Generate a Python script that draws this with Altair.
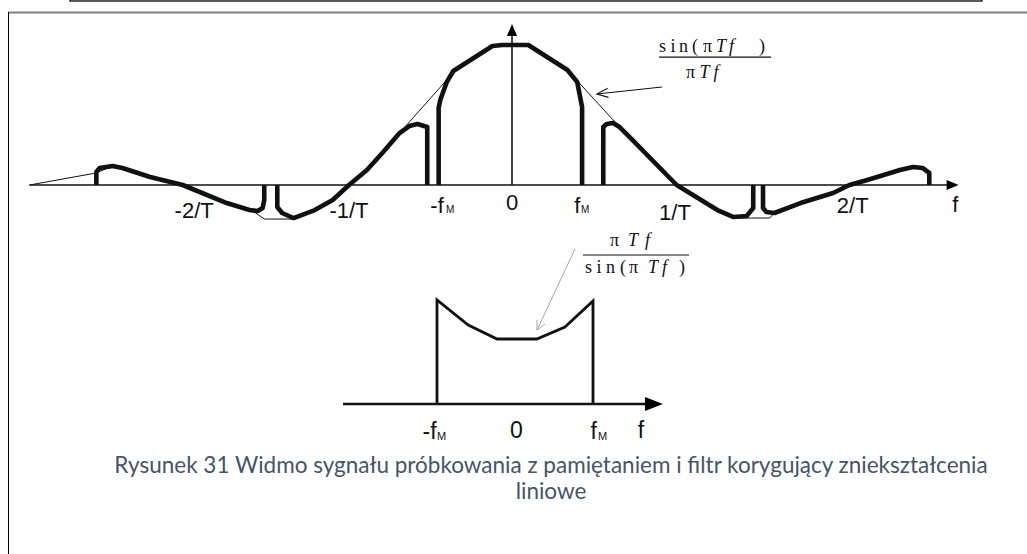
import altair as alt
import pandas as pd

W, H = 1027, 554

# ---------------------------------------------------------------------------
# Upper diagram: spectrum of the sample-and-hold signal.
# Frequency in units of 1/T, amplitude relative to the peak of sin(pi T f)/(pi T f)
# ---------------------------------------------------------------------------
sinc_f = [-2.96, -2.55, -2.45, -2.39, -2.22, -2.02, -1.75, -1.58, -1.52, -1.33,
          -1.21, -1.10, -1.00, -0.89, -0.79, -0.69, -0.39, -0.36, -0.12, -0.06,
          0.10, 0.34, 0.66, 0.74, 1.01, 1.15, 1.26, 1.37, 1.58, 1.61, 1.77,
          1.97, 2.07, 2.18, 2.38, 2.46, 2.52, 2.56]
sinc_a = [0.0, 0.086, 0.136, 0.129, 0.057, 0.0, -0.129, -0.193, -0.243, -0.243,
          -0.179, -0.107, 0.0, 0.107, 0.236, 0.371, 0.764, 0.814, 0.993, 1.0,
          1.0, 0.821, 0.414, 0.321, 0.0, -0.10, -0.179, -0.236, -0.236, -0.20, -0.129,
          -0.057, 0.0, 0.036, 0.107, 0.129, 0.121, 0.086]

# spectral replicas (heavy line), one list per band
band_f = [
    [-2.55, -2.55, -2.53, -2.45, -2.39, -2.22, -2.02, -1.75, -1.61, -1.56, -1.53, -1.52, -1.52],
    [-1.44, -1.44, -1.41, -1.34, -1.21, -1.10, -1.00, -0.89, -0.79, -0.69, -0.63, -0.58, -0.52, -0.52],
    [-0.45, -0.45, -0.44, -0.40, -0.36, -0.12, -0.06, 0.10, 0.34, 0.40, 0.43, 0.43],
    [0.56, 0.56, 0.58, 0.62, 0.66, 0.74, 1.01, 1.15, 1.26, 1.36, 1.44, 1.48, 1.48],
    [1.54, 1.54, 1.56, 1.61, 1.77, 1.97, 2.07, 2.18, 2.38, 2.46, 2.52, 2.56, 2.56],
]
band_a = [
    [0.0, 0.093, 0.121, 0.136, 0.121, 0.057, 0.0, -0.129, -0.179, -0.186, -0.164, -0.107, 0.0],
    [0.0, -0.157, -0.20, -0.236, -0.179, -0.107, 0.0, 0.107, 0.236, 0.371, 0.421, 0.436, 0.414, 0.0],
    [0.0, 0.55, 0.607, 0.736, 0.814, 0.993, 1.0, 1.0, 0.821, 0.736, 0.557, 0.0],
    [0.0, 0.414, 0.436, 0.443, 0.414, 0.321, 0.0, -0.10, -0.179, -0.229, -0.221, -0.164, 0.0],
    [0.0, -0.164, -0.193, -0.20, -0.129, -0.057, 0.0, 0.036, 0.107, 0.129, 0.121, 0.086, 0.0],
]

top_tick_text = ["-2/T", "-1/T", "-f", "0", "f", "1/T", "2/T", "f"]
top_tick_f = [-1.95, -1.0, -0.46, 0.0, 0.40, 1.0, 2.09, 2.72]
top_tick_a = [-0.236, -0.236, -0.20, -0.179, -0.20, -0.25, -0.20, -0.193]
top_sub_f = [-0.405, 0.423]
top_sub_a = [-0.20, -0.20]

# formula sin(pi T f) / (pi T f), set glyph by glyph (upright / italic)
top_num_glyphs = ["s", "i", "n", "(", "π", ")"]
top_num_f = [0.902, 0.972, 1.025, 1.104, 1.172, 1.515]
top_num_ital = ["T", "f"]
top_num_ital_f = [1.252, 1.331]
top_formula_a = 0.95
top_den_glyphs = ["π"]
top_den_f = [1.068]
top_den_ital = ["T", "f"]
top_den_ital_f = [1.150, 1.236]
top_den_a = 0.764

# ---------------------------------------------------------------------------
# Lower diagram: correcting filter, frequency in units of f_M
# ---------------------------------------------------------------------------
filt_f = [-1.0, -1.0, -0.60, -0.23, 0.28, 0.64, 1.0, 1.0]
filt_g = [0.0, 1.60, 1.215, 1.0, 1.0, 1.185, 1.585, 0.0]

bot_tick_text = ["-f", "0", "f", "f"]
bot_tick_f = [-1.096, 0.019, 1.01, 1.615]
bot_tick_g = [-0.535, -0.523, -0.535, -0.53]
bot_sub_f = [-1.0, 1.064]
bot_sub_g = [-0.55, -0.55]

# formula (pi T f) / sin(pi T f)
bot_num_glyphs = ["π"]
bot_num_f = [1.218]
bot_num_ital = ["T", "f"]
bot_num_ital_f = [1.449, 1.667]
bot_num_g = 2.431
bot_den_glyphs = ["s", "i", "n", "(", "π", ")"]
bot_den_f = [0.897, 1.045, 1.167, 1.346, 1.462, 2.103]
bot_den_ital = ["T", "f"]
bot_den_ital_f = [1.705, 1.885]
bot_den_g = 2.015

CAPTION = ["Rysunek 31 Widmo sygnału próbkowania z pamiętaniem i filtr korygujący zniekształcenia",
           "liniowe"]

# ---------------------------------------------------------------------------
# scales: each diagram has its own origin and units on the shared canvas
# ---------------------------------------------------------------------------
def lin(origin_px, px_per_unit, extent, flip=False):
    if flip:
        return alt.Scale(domain=[-(extent - origin_px) / px_per_unit, origin_px / px_per_unit],
                         nice=False, zero=False)
    return alt.Scale(domain=[-origin_px / px_per_unit, (extent - origin_px) / px_per_unit],
                     nice=False, zero=False)

XT = lin(512, 163, W)
YT = lin(185, 140, H, flip=True)
XB = lin(515, 78, W)
YB = lin(404, 65, H, flip=True)


def enc(scx, scy, xf="x", yf="y"):
    return dict(x=alt.X(f"{xf}:Q", scale=scx, axis=None),
                y=alt.Y(f"{yf}:Q", scale=scy, axis=None))


def polyline(points, scx, scy, **kw):
    rows = []
    for gid, pts in enumerate(points):
        for i, (x, y) in enumerate(pts):
            rows.append({"g": gid, "i": i, "x": x, "y": y})
    return alt.Chart(pd.DataFrame(rows)).mark_line(**kw).encode(
        detail="g:N", order=alt.Order("i:Q"), **enc(scx, scy))


def texts(items, scx, scy, **kw):
    df = pd.DataFrame(items, columns=["t", "x", "y"])
    return alt.Chart(df).mark_text(**kw).encode(text="t:N", **enc(scx, scy))


def arrowhead(x, y, path, size, scx, scy, color="black"):
    df = pd.DataFrame({"x": [x], "y": [y]})
    return alt.Chart(df).mark_point(shape=path, size=size, filled=True, color=color,
                                    opacity=1, strokeWidth=0).encode(**enc(scx, scy))


RIGHT = "M0,0L-2,-0.85L-2,0.85Z"
UP = "M0,0L-0.85,2L0.85,2Z"

layers = []

# ---- page frame --------------------------------------------------------------
layers += [
    alt.Chart().mark_rule(color="#222222", strokeWidth=1.5).encode(
        x=alt.value(70), x2=alt.value(982), y=alt.value(1)),
    alt.Chart().mark_rule(color="#222222", strokeWidth=1.5).encode(
        x=alt.value(70), y=alt.value(0), y2=alt.value(1.5)),
    alt.Chart().mark_rule(color="#222222", strokeWidth=1.5).encode(
        x=alt.value(982), y=alt.value(0), y2=alt.value(1.5)),
    alt.Chart().mark_rule(color="#7f7f7f", strokeWidth=2).encode(
        x=alt.value(8), x2=alt.value(W), y=alt.value(12.5)),
    alt.Chart().mark_rule(color="#000000", strokeWidth=1).encode(
        x=alt.value(8.5), y=alt.value(12), y2=alt.value(H)),
]

# ---- upper diagram -------------------------------------------------------------
axes_top = pd.DataFrame({"x": [-2.96, 0.0], "x2": [2.69, 0.0], "y": [0.0, 0.0], "y2": [0.0, 1.10]})
layers.append(alt.Chart(axes_top).mark_rule(color="#111111", strokeWidth=1.6).encode(
    x2="x2:Q", y2="y2:Q", **enc(XT, YT)))
layers.append(arrowhead(2.74, 0.0, RIGHT, 144, XT, YT))
layers.append(arrowhead(0.0, 1.15, UP, 144, XT, YT))

layers.append(polyline([list(zip(sinc_f, sinc_a))], XT, YT, color="#111111", strokeWidth=1))
layers.append(polyline([list(zip(f, a)) for f, a in zip(band_f, band_a)], XT, YT,
                       color="#111111", strokeWidth=4.6, strokeJoin="round"))

tick_font = dict(font="Liberation Sans", color="#111111", baseline="alphabetic")
layers.append(texts(list(zip(top_tick_text, top_tick_f, top_tick_a)), XT, YT,
                    align="center", fontSize=22, **tick_font))
layers.append(texts([("M", f, a) for f, a in zip(top_sub_f, top_sub_a)], XT, YT,
                    align="left", fontSize=10, **tick_font))

# sin(pi T f) / (pi T f) label with its pointer
serif = dict(font="Liberation Serif", fontSize=18, color="#111111",
             baseline="alphabetic", align="left")
up_items = ([(g, f, top_formula_a) for g, f in zip(top_num_glyphs, top_num_f)]
            + [(g, f, top_den_a) for g, f in zip(top_den_glyphs, top_den_f)])
it_items = ([(g, f, top_formula_a) for g, f in zip(top_num_ital, top_num_ital_f)]
            + [(g, f, top_den_a) for g, f in zip(top_den_ital, top_den_ital_f)])
layers.append(texts(up_items, XT, YT, **serif))
layers.append(texts(it_items, XT, YT, fontStyle="italic", **serif))
bar_top = pd.DataFrame({"x": [0.902], "x2": [1.589], "y": [0.914]})
layers.append(alt.Chart(bar_top).mark_rule(color="#111111", strokeWidth=1.2).encode(
    x2="x2:Q", **enc(XT, YT)))
layers.append(polyline([[(0.92, 0.70), (0.521, 0.65)],
                        [(0.592, 0.626), (0.521, 0.65), (0.587, 0.691)]],
                       XT, YT, color="#111111", strokeWidth=1.1))

# ---- lower diagram -------------------------------------------------------------
axis_bot = pd.DataFrame({"x": [-2.205], "x2": [1.80], "y": [0.0]})
layers.append(alt.Chart(axis_bot).mark_rule(color="#111111", strokeWidth=2.6).encode(
    x2="x2:Q", **enc(XB, YB)))
layers.append(arrowhead(1.897, 0.0, "M0,0L-2,-0.78L-2,0.78Z", 324, XB, YB))
layers.append(polyline([list(zip(filt_f, filt_g))], XB, YB, color="#111111",
                       strokeWidth=2.8, strokeJoin="miter"))

layers.append(texts(list(zip(bot_tick_text, bot_tick_f, bot_tick_g)), XB, YB,
                    align="center", fontSize=23, **tick_font))
layers.append(texts([("M", f, g) for f, g in zip(bot_sub_f, bot_sub_g)], XB, YB,
                    align="left", fontSize=11, **tick_font))

up_items = ([(g, f, bot_num_g) for g, f in zip(bot_num_glyphs, bot_num_f)]
            + [(g, f, bot_den_g) for g, f in zip(bot_den_glyphs, bot_den_f)])
it_items = ([(g, f, bot_num_g) for g, f in zip(bot_num_ital, bot_num_ital_f)]
            + [(g, f, bot_den_g) for g, f in zip(bot_den_ital, bot_den_ital_f)])
layers.append(texts(up_items, XB, YB, **serif))
layers.append(texts(it_items, XB, YB, fontStyle="italic", **serif))
bar_bot = pd.DataFrame({"x": [0.872], "x2": [2.231], "y": [2.292]})
layers.append(alt.Chart(bar_bot).mark_rule(color="#111111", strokeWidth=1.2).encode(
    x2="x2:Q", **enc(XB, YB)))
layers.append(polyline([[(0.769, 2.385), (0.282, 1.138)],
                        [(0.385, 1.231), (0.282, 1.138), (0.282, 1.292)]],
                       XB, YB, color="#a6a6a6", strokeWidth=1))

# ---- caption -------------------------------------------------------------------
for line, ypos in zip(CAPTION, [465.5, 492]):
    layers.append(alt.Chart().mark_text(font="Lato", fontSize=22.5, color="#44546a",
                                        align="center", baseline="middle").encode(
        x=alt.value(551), y=alt.value(ypos), text=alt.value(line)))

chart = alt.layer(*layers).resolve_scale(x="independent", y="independent").properties(
    width=W, height=H, autosize=alt.AutoSizeParams(type="none"), padding=0,
    background="white",
).configure_view(stroke=None)

chart.save("out.html", embed_options={"renderer": "svg", "actions": False})
